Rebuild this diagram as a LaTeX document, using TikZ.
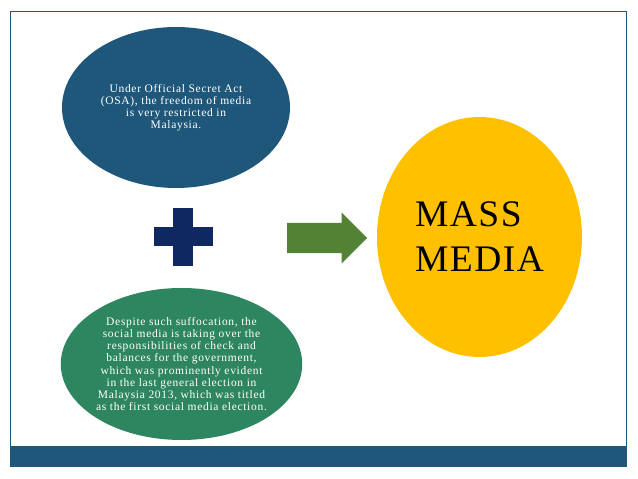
\documentclass[tikz,border=0pt]{standalone}
\usepackage{fontspec}
\setmainfont{Liberation Serif}
\newfontfamily\bubblefont[LetterSpace=6]{Liberation Serif}
\newfontfamily\massfont[LetterSpace=4]{Liberation Serif}
\usetikzlibrary{shapes.geometric,shapes.arrows}
\definecolor{slideblue}{RGB}{31,87,122}
\definecolor{slidegreen}{RGB}{46,134,96}
\definecolor{slideyellow}{RGB}{255,192,0}
\definecolor{plusnavy}{RGB}{15,40,95}
\definecolor{arrowgreen}{RGB}{84,130,53}
\begin{document}
\begin{tikzpicture}[x=1pt,y=1pt,
  bubble/.style={ellipse, inner sep=0pt, align=center, text=white,
    font=\bubblefont\fontsize{11.5}{12.2}\selectfont}]
\useasboundingbox (0,0) rectangle (638,479);
% slide frame and footer
\draw[slideblue, line width=0.8pt] (10,33) -- (10,468) -- (626.5,468) -- (626.5,33);
\fill[slideblue] (10,12) rectangle (627,33);
\node[bubble, fill=slideblue, minimum width=228pt, minimum height=161pt] (osa) at (176,371.5) {Under Official Secret Act\\(OSA), the freedom of media\\is very restricted in\\Malaysia.};
\node[bubble, fill=slidegreen, minimum width=237pt, minimum height=152pt] (social) at (181.5,115) {Despite such suffocation, the\\social media is taking over the\\responsibilities of check and\\balances for the government,\\which was prominently evident\\in the last general election in\\Malaysia 2013, which was titled\\as the first social media election.};
\node[ellipse, fill=slideyellow, inner sep=0pt, minimum width=205pt, minimum height=240pt, align=left, font=\massfont\fontsize{37.5}{45}\selectfont] (mass) at (479.5,242) {MASS\\MEDIA};
% plus sign
\coordinate (plus) at (183,242);
\fill[plusnavy] ([xshift=-29.5pt,yshift=-9.5pt]plus) rectangle ([xshift=29.5pt,yshift=9.5pt]plus);
\fill[plusnavy] ([xshift=-10pt,yshift=-29pt]plus) rectangle ([xshift=10pt,yshift=29pt]plus);
\node[single arrow, fill=arrowgreen, inner xsep=0pt, inner ysep=15pt, minimum height=80pt, single arrow head extend=10.5pt, anchor=tail] (arrow) at (287,241) {};
\end{tikzpicture}
\end{document}
